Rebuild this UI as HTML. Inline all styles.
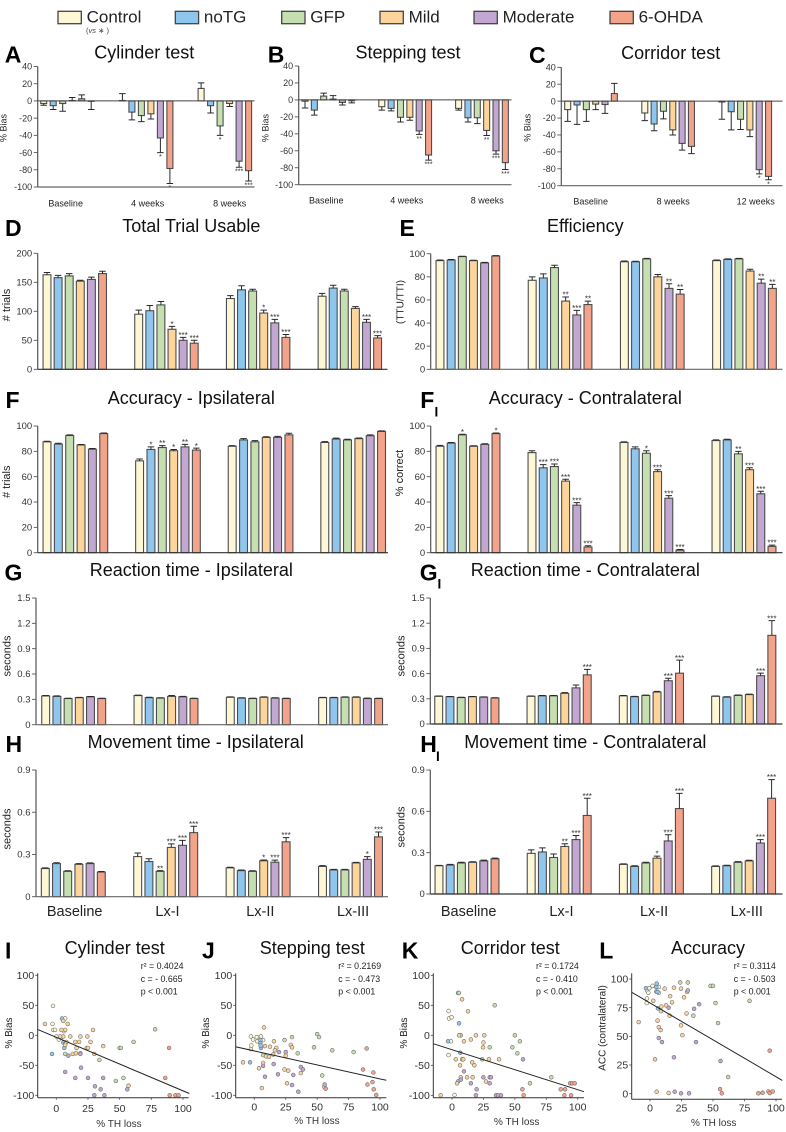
<!DOCTYPE html>
<html lang="en">
<head>
<meta charset="utf-8">
<title>Behavioural test panels</title>
<style>
html,body{margin:0;padding:0;background:#fff;}
svg{display:block;font-family:"Liberation Sans",Arial,sans-serif;}
</style>
</head>
<body>
<svg id="figure" xmlns="http://www.w3.org/2000/svg" width="786" height="1132" viewBox="0 0 786 1132"></svg>
<script>
/* ---------- shared categories ---------- */
const seriesNames = ['Control','noTG','GFP','Mild','Moderate','6-OHDA'];
const seriesColors = ['#FDF7D6','#8FC6EE','#C6DFB1','#FDD59B','#C2A7D3','#F3A38A'];

/* ---------- A-C ---------- */
const biasTicks = [40,20,0,-20,-40,-60,-80,-100];
const aGroups = ['Baseline','4 weeks','8 weeks'];
const aValues = [[-3,-5.5,-3,0.5,2.5,-0.5],[0.5,-13,-17,-15,-43,-78.5],[14.5,-5.5,-29,-3,-70,-81]];
const aErrors = [[2,4.5,9,3.5,4.5,9.5],[8,9,7,6,17,17.5],[6.5,8.5,11,3.5,7,12]];
const aStars = [['','','','','',''],['','','','','*','*'],['','','*','','***','***']];

const bGroups = ['Baseline','4 weeks','8 weeks'];
const bValues = [[-1.5,-12,4.5,1,-3,-1],[-8,-10,-20.5,-20.5,-36.6,-65],[-10,-21,-21,-36,-60,-74]];
const bErrors = [[8,6,3.5,4,3,2.5],[4,3,5.5,3.5,4,6],[2,5,7,6,4,8]];
const bStars = [['','','','','',''],['','','','','**','***'],['','','','**','***','***']];

const cGroups = ['Baseline','8 weeks','12 weeks'];
const cValues = [[-10,-4.5,-10,-3.5,-4,9],[-14,-27,-12,-34,-50,-53.5],[-1,-12.5,-21.5,-34,-81,-89]];
const cErrors = [[14,23,14,6.5,10.5,12],[9,8,9,6,8,8.5],[20.5,21.5,12,8,5,4]];
const cStars = [['','','','','',''],['','','','','',''],['','','','','*','*']];

/* ---------- D, E ---------- */
const dTicks = [200,150,100,50,0];
const dValues = [[163,158,161,152,155,165],[95,101,111,69,50,45],[122,137,135,97,80,55],[126,140,135,105,81,54]];
const dErrors = [[4,4,4,1.5,4,4],[7,9,6,5,5,5],[5,7,3,5,6,5],[5,5,3,3,5,4]];
const dStars = [['','','','','',''],['','','','*','***','***'],['','','','*','***','***'],['','','','','***','***']];

const percentTicks = [100,80,60,40,20,0];
const eValues = [[94,94.5,97.5,94,92,98],[77,79,88,59,47,56],[93,93,95.5,80,70,65],[94,95,95.5,85,74.5,70]];
const eErrors = [[0.5,0.5,0.3,0.3,0.5,0.3],[3,3.5,2,3.5,4,3],[0.7,0.5,0.5,2,4,4],[0.5,0.5,0.5,1.5,3.5,3.5]];
const eStars = [['','','','','',''],['','','','**','***','**'],['','','','','**','**'],['','','','','**','**']];

/* ---------- F, F-I ---------- */
const fValues = [[87.5,85.7,92.5,85,81.7,94],[72.5,81.5,83,80.5,83.5,81],[84,89,87.5,91,91,93],[87,89.7,89,90,92.3,95.7]];
const fErrors = [[0.5,0.7,0.5,0.4,0.5,0.5],[1.5,2,1.5,1,2,1.5],[0.5,1,1,0.5,0.8,1.3],[0.7,0.7,0.5,0.5,0.7,0.5]];
const fStars = [['','','','','',''],['','*','**','*','**','*'],['','','','','',''],['','','','','','']];

const fiValues = [[84,86.5,93,84,85.5,94],[79,67,68,56.5,37.5,4.5],[87,82,78.5,64,43,2],[88.5,89,78,65.5,46.5,5]];
const fiErrors = [[0.7,0.5,0.5,0.4,0.5,0.5],[1.5,2.5,2,1.5,2,1],[0.5,1.5,2,1.5,2,0.5],[0.5,0.5,2,1.5,2,1]];
const fiStars = [['','','*','','','*'],['','***','***','***','***','***'],['','','*','***','***','***'],['','','**','***','***','***']];

/* ---------- G, G-I ---------- */
const reactionTicks = [1.5,1.2,0.9,0.6,0.3,0];
const gValues = [[0.34,0.335,0.31,0.32,0.33,0.31],[0.345,0.32,0.315,0.335,0.33,0.31],[0.325,0.315,0.31,0.325,0.315,0.31],[0.32,0.32,0.325,0.325,0.31,0.31]];
const gErrors = [[0.005,0.006,0.003,0.004,0.004,0.003],[0.005,0.005,0.004,0.01,0.005,0.003],[0.005,0.004,0.003,0.005,0.004,0.003],[0.004,0.004,0.004,0.005,0.004,0.003]];
const gStars = [['','','','','',''],['','','','','',''],['','','','','',''],['','','','','','']];

const giValues = [[0.33,0.325,0.315,0.325,0.32,0.31],[0.33,0.335,0.335,0.365,0.43,0.585],[0.335,0.325,0.34,0.38,0.515,0.605],[0.33,0.32,0.34,0.35,0.575,1.055]];
const giErrors = [[0.003,0.003,0.003,0.003,0.003,0.003],[0.004,0.005,0.005,0.008,0.035,0.065],[0.005,0.004,0.004,0.008,0.03,0.155],[0.004,0.004,0.005,0.005,0.03,0.175]];
const giStars = [['','','','','',''],['','','','','','***'],['','','','','***','***'],['','','','','***','***']];

/* ---------- H, H-I ---------- */
const movementTicks = [0.9,0.6,0.3,0];
const lesionGroups = ['Baseline','Lx-I','Lx-II','Lx-III'];
const hValues = [[0.2,0.235,0.18,0.23,0.235,0.175],[0.285,0.25,0.18,0.35,0.365,0.455],[0.205,0.185,0.18,0.255,0.245,0.39],[0.215,0.19,0.19,0.24,0.265,0.425]];
const hErrors = [[0.005,0.006,0.004,0.005,0.005,0.004],[0.025,0.02,0.005,0.025,0.035,0.045],[0.004,0.005,0.004,0.006,0.015,0.03],[0.006,0.004,0.004,0.004,0.02,0.035]];
const hStars = [['','','','','',''],['','','**','***','***','***'],['','','','*','***','***'],['','','','','*','***']];

const hiValues = [[0.205,0.21,0.225,0.23,0.24,0.255],[0.295,0.305,0.265,0.345,0.395,0.57],[0.215,0.2,0.225,0.26,0.385,0.62],[0.2,0.205,0.23,0.24,0.37,0.695]];
const hiErrors = [[0.003,0.005,0.005,0.004,0.006,0.005],[0.025,0.03,0.025,0.02,0.03,0.125],[0.004,0.005,0.005,0.015,0.045,0.11],[0.004,0.004,0.005,0.005,0.025,0.135]];
const hiStars = [['','','','','',''],['','','','**','***','***'],['','','','*','***','***'],['','','','','***','***']];

/* ---------- scatter data: [% TH loss, outcome] ---------- */
const lossTicks = [0,25,50,75,100];
const biasScatterTicks = [100,50,0,-50,-100];
const accScatterTicks = [100,75,50,25,0];

const iControl = [[-2.6,49],[-3,19],[-2.4,9],[-1,9],[0,-2],[2,-7],[7,28],[6,7],[4,-3]];
const iNoTG = [[4.5,28],[-3.4,-31],[6.3,-21],[5.5,-12],[7,-14]];
const iGFP = [[78,10],[61,-11],[50,-21],[51,-21],[34,-41],[24,-21],[7,-31],[53,-71],[47,-76]];
const iMild = [[-9,19],[5.5,24],[9,19],[4,9],[7,9],[29,9],[11,-2],[19,-2],[24.5,-2],[5.5,-2],[3,-2],[8,-11],[15,-11],[18,-11],[27,-11],[7,-16],[37,-18],[16,-21],[25,-21],[13,-31],[15.5,-30],[19,-30],[30,-31],[57,-84]];
const iModerate = [[9.5,-34],[19,-31],[19.5,-54],[7,-61],[15,-71],[25,-71],[37,-71],[30.5,-85],[35,-90],[56,-90],[30,-100],[38,-100]];
const iOHDA = [[89,-21],[86,-71],[89.5,-100],[94,-100],[96.5,-100]];
const iLineX = [-15,105];
const iLineY = [10,-97];

const jControl = [[-2.7,-2],[2,-3],[5.3,-2],[-1,-7],[-2.4,-17],[-2.7,-23],[7,-8],[2.4,-10]];
const jNoTG = [[-3.4,-45],[4.8,-8],[4.8,-13],[5.3,-21],[5,-17]];
const jGFP = [[30,-3],[50,2],[51.5,-3],[24,-8],[47.5,-20],[62,-25],[79,-28],[34.5,-30],[7,-33],[54,-67]];
const jMild = [[7.7,13],[15.6,-10],[29,-16],[30,-20],[17.5,-21],[8.5,-18],[12.5,-19],[16.4,-25],[25,-34],[15,-32],[9.3,-35],[11.7,-36],[-9,-45],[7,-46],[3.7,-55],[24,-57],[27,-59],[37,-63],[26,-80],[6,-88],[55.7,-86]];
const jModerate = [[19.6,-28],[25,-28],[7,-51],[15.4,-48],[37,-53],[38.7,-57],[8.5,-69],[18.8,-65],[31,-66],[30,-83],[35,-94],[56,-82]];
const jOHDA = [[89.4,-22],[86.5,-57],[94.7,-62],[90,-82],[94,-78],[95,-90],[97,-99.5],[56.8,-89]];
const jLineX = [-15,105];
const jLineY = [-19,-75];

const kControl = [[-2.7,40.5],[-2.4,28],[-0.3,30],[-0.8,-10],[-2.7,-33],[2,-99.5]];
const kNoTG = [[4.8,70.5],[5.6,20],[-3.2,-10],[6.6,-29],[4.8,-77]];
const kGFP = [[34,50],[5.5,70.5],[7,0],[30,-20],[50,0],[54,-10],[48,-20],[52,-30],[24,-40],[79,-70],[62,-80]];
const kMild = [[8,60],[12.7,40],[5.6,0],[19,0],[25.7,0],[9.5,-10],[15,-7],[25,-12],[24.7,-20],[3,-40],[8,-40],[9,-40],[29.4,-40],[37.4,-40],[16,-45],[17.8,-50],[6.4,-50],[7,-70],[12,-70],[16.4,-70],[4,-80],[27,-77],[-9,-100]];
const kModerate = [[56.5,-40],[9.5,-60],[25,-70],[30,-70],[31,-70],[7,-74],[15,-80],[30,-80],[19.6,-90],[19,-100],[35,-100],[36.6,-100],[39,-100]];
const kOHDA = [[94,-80],[95.5,-80],[97.6,-80],[86.5,-90],[90,-90],[56,-90],[57,-100],[89.4,-100],[94.7,-100]];
const kLineX = [-15,105];
const kLineY = [-14,-94];

const lControl = [[-2.4,90],[-0.5,92],[2,94],[-1.3,88],[-2.4,83],[-2.6,79],[7,93],[7,88]];
const lNoTG = [[-3.2,92],[5.3,96],[5,89],[6,88.7],[5,93],[6.3,74.4]];
const lGFP = [[24,97],[30,97],[48,94],[50,94],[52,79],[79,81],[54,61.6],[34.4,68],[62,14.5]];
const lMild = [[11.6,91.6],[19,92.4],[24.6,91.6],[16,85],[27,84],[29.4,88.7],[2.6,81],[17.5,79.7],[12.7,77],[9,76],[8.7,72],[15.6,68],[29,70],[-9,62.5],[6,63.7],[7,58],[8.5,55.5],[24.6,59.6],[25.7,51],[4,30],[5.3,1.7],[14.8,0.6]];
const lModerate = [[30,90],[14.8,75],[39,78],[35,74],[7,48.5],[9.5,45],[36.5,45],[19,31.7],[56,28.5],[19.6,1.7],[24.6,0.3],[31,0.3]];
const lOHDA = [[95,37.5],[55.6,4],[57,0.3],[86,0.3],[89.4,0.9],[94,2],[95,0.6],[97.4,2]];
const lLineX = [-14.5,105];
const lLineY = [88.4,11.6];

/* ---------- drawing helpers ---------- */
const NS = 'http://www.w3.org/2000/svg';
const root = document.getElementById('figure');

function make(parent, tag, attrs){
  const el = document.createElementNS(NS, tag);
  for (const k in attrs) el.setAttribute(k, attrs[k]);
  parent.appendChild(el);
  return el;
}
function textEl(parent, str, x, y, size, extra){
  const el = make(parent, 'text', Object.assign({x:x, y:y, 'font-size':size, fill:'#222'}, extra || {}));
  el.textContent = str;
  return el;
}
function rotatedText(parent, str, x, y, size){
  const el = make(parent, 'text', {x:0, y:0, 'font-size':size, fill:'#222', 'text-anchor':'middle',
    transform:'translate(' + x + ' ' + y + ') rotate(-90)', 'dominant-baseline':'central'});
  el.textContent = str;
  return el;
}
function linePath(parent, x1, y1, x2, y2, color, width){
  return make(parent, 'line', {x1:x1, y1:y1, x2:x2, y2:y2, stroke:color, 'stroke-width':width});
}

/* ---------- legend ---------- */
const legendLayout = {boxW:23.3, boxH:12.4, boxY:11.3, textY:22.5, starts:[58,175.3,281.7,380,474,610]};
const legend = make(root, 'g', {});


seriesNames.forEach(function(name, i){
  const entry = make(legend, 'g', {});
  
  
  const x = legendLayout.starts[i];
  make(entry, 'rect', {x:x, y:legendLayout.boxY, width:legendLayout.boxW, height:legendLayout.boxH,
    fill:seriesColors[i], stroke:'#444', 'stroke-width':1.3});
  textEl(entry, name, x + legendLayout.boxW + 5.3, legendLayout.textY, 17, {fill:'#222'});
});
const vsNote = make(legend, 'text', {x:86, y:33, 'font-size':7.5, fill:'#444'});


vsNote.innerHTML = '(<tspan font-style="italic">vs</tspan> ∗ )';

/* ---------- panel heading ---------- */
function panelHeading(parent, letter, letterX, letterY, sub, subX, subY, title, titleX, titleY){
  const mark = textEl(parent, letter, letterX, letterY, 23, {'font-weight':'bold', fill:'#000'});
  
  
  if (sub){
    const subMark = textEl(parent, 'I', subX, subY, 13.5, {'font-weight':'bold', fill:'#000'});
    
    
  }
  const head = textEl(parent, title, titleX, titleY, 18, {'text-anchor':'middle', fill:'#111'});
  
  
}

/* ---------- bar panels ---------- */
function barPanel(p){
  const g = make(root, 'g', {});
  
  
  panelHeading(g, p.letter, p.letterX, p.letterY, p.sub, p.subX, p.subY, p.title, p.titleX, p.titleY);

  const top = p.ticks[0];
  const bottom = p.ticks[p.ticks.length - 1];
  const yScale = function(v){ return p.yBottom + (v - bottom) * (p.yTop - p.yBottom) / (top - bottom); };
  const xScale = function(groupIdx, seriesIdx){ return p.first + groupIdx * p.groupPitch + seriesIdx * p.barPitch; };

  p.values.forEach(function(groupValues, gi){
    groupValues.forEach(function(v, si){
      const cx = xScale(gi, si);
      const y0 = yScale(0);
      const yv = yScale(v);
      const bar = make(g, 'rect', {x:cx - p.barW / 2, y:Math.min(y0, yv), width:p.barW,
        height:Math.abs(y0 - yv), fill:seriesColors[si], stroke:'#4d4d4d', 'stroke-width':1.1});
      
      

      const direction = v >= 0 ? 1 : -1;
      const yErr = yScale(v + direction * p.errors[gi][si]);
      const whisker = make(g, 'path', {
        d:'M' + cx + ' ' + yv + 'V' + yErr + 'M' + (cx - p.capW / 2) + ' ' + yErr + 'H' + (cx + p.capW / 2),
        fill:'none', stroke:'#2a2a2a', 'stroke-width':1});
      
      

      const star = p.stars[gi][si];
      if (star){
        const mark = textEl(g, star, cx, direction > 0 ? yErr + 0.6 : yErr + 6.5, p.starSize, {'text-anchor':'middle', fill:'#333'});
        
        
      }
    });
  });

  const yAxis = linePath(g, p.axisX, yScale(top), p.axisX, p.yBottomAxis === undefined ? yScale(bottom) : p.yBottomAxis, '#555', 1.2);
  
  
  const xAxis = linePath(g, p.axisX, yScale(bottom), p.axisEnd, yScale(bottom), p.axisColor, 1.2);
  
  
  if (bottom !== 0){
    const zero = linePath(g, p.axisX, yScale(0), p.axisEnd, yScale(0), '#444', 1);
    
    
  }
  p.ticks.forEach(function(t){
    const mark = linePath(g, p.axisX - 4, yScale(t), p.axisX, yScale(t), '#555', 0.9);
    
    
    const label = textEl(g, String(t), p.axisX - 5.5, yScale(t) + 3.2, p.tickSize, {'text-anchor':'end', fill:'#333'});
    
    
  });
  const yTitle = rotatedText(g, p.yTitle, p.yTitleX, p.yTitleY, p.yTitleSize);
  
  
  if (p.groups){
    p.groups.forEach(function(label, i){
      const cat = textEl(g, label, p.groupLabelX + i * p.groupLabelPitch, p.groupLabelY, p.groupLabelSize, {'text-anchor':'middle', fill:'#222'});
      
      
    });
  }
}

const smallBars = {ticks:biasTicks, barW:6, capW:6.5, starSize:7, tickSize:9, yTitleSize:9, axisColor:'#666', groupLabelSize:9};
barPanel(Object.assign({}, smallBars, {name:'panel-a-cylinder-test', letter:'A', letterX:4.7, letterY:62.7, title:'Cylinder test', titleX:144.3, titleY:58.7,
  values:aValues, errors:aErrors, stars:aStars, groups:aGroups, first:43.7, barPitch:9.5, groupPitch:78.7,
  axisX:37.7, axisEnd:254.5, yTop:66.5, yBottom:187, yTitle:'% Bias', yTitleX:3.5, yTitleY:128,
  groupLabelX:65.7, groupLabelPitch:82, groupLabelY:206.7}));
barPanel(Object.assign({}, smallBars, {name:'panel-b-stepping-test', letter:'B', letterX:267.7, letterY:62.7, title:'Stepping test', titleX:408, titleY:58.7,
  values:bValues, errors:bErrors, stars:bStars, groups:bGroups, first:305, barPitch:9.35, groupPitch:76.8,
  axisX:298.7, axisEnd:511.5, yTop:66, yBottom:184.7, yTitle:'% Bias', yTitleX:265.3, yTitleY:128,
  groupLabelX:326.3, groupLabelPitch:80.5, groupLabelY:203.7}));
barPanel(Object.assign({}, smallBars, {name:'panel-c-corridor-test', letter:'C', letterX:529, letterY:63, title:'Corridor test', titleX:670.7, titleY:59,
  values:cValues, errors:cErrors, stars:cStars, groups:cGroups, first:567.7, barPitch:9.33, groupPitch:77.1,
  axisX:561.3, axisEnd:782.5, yTop:67.3, yBottom:185.7, yTitle:'% Bias', yTitleX:527.3, yTitleY:127.7,
  groupLabelX:590.7, groupLabelPitch:82.5, groupLabelY:204.7}));

const midBars = {barW:7.9, capW:6.5, starSize:8, tickSize:9.5, yTitleSize:11, axisColor:'#333'};
barPanel(Object.assign({}, midBars, {name:'panel-d-total-trial-usable', letter:'D', letterX:5, letterY:236, title:'Total Trial Usable', titleX:191.3, titleY:232,
  values:dValues, errors:dErrors, stars:dStars, ticks:dTicks, first:47, barPitch:11.1, groupPitch:91.7,
  axisX:37.7, axisEnd:387.5, yTop:253.3, yBottom:369.3, yTitle:'# trials', yTitleX:7, yTitleY:305}));
barPanel(Object.assign({}, midBars, {name:'panel-e-efficiency', letter:'E', letterX:399.5, letterY:236, title:'Efficiency', titleX:585.3, titleY:232,
  values:eValues, errors:eErrors, stars:eStars, ticks:percentTicks, first:440, barPitch:11.15, groupPitch:92.2,
  axisX:430.7, axisEnd:782.5, yTop:253.7, yBottom:369.3, yTitle:'(TTU/TTI)', yTitleX:401, yTitleY:302, yTitleSize:10, axisColor:'#666'}));
barPanel(Object.assign({}, midBars, {name:'panel-f-accuracy-ipsilateral', letter:'F', letterX:5.5, letterY:408, title:'Accuracy - Ipsilateral', titleX:191.3, titleY:404,
  values:fValues, errors:fErrors, stars:fStars, ticks:percentTicks, first:47, barPitch:11.35, groupPitch:92.6,
  axisX:37.7, axisEnd:388, yTop:426, yBottom:552.7, yTitle:'# trials', yTitleX:7, yTitleY:481.7}));
barPanel(Object.assign({}, midBars, {name:'panel-f1-accuracy-contralateral', letter:'F', letterX:420.3, letterY:408, sub:true, subX:434.5, subY:416.5, title:'Accuracy - Contralateral', titleX:585.3, titleY:404,
  values:fiValues, errors:fiErrors, stars:fiStars, ticks:percentTicks, first:440, barPitch:11.2, groupPitch:92,
  axisX:430.7, axisEnd:782.5, yTop:426, yBottom:552.7, yTitle:'% correct', yTitleX:400, yTitleY:473}));
barPanel(Object.assign({}, midBars, {name:'panel-g-reaction-time-ipsilateral', letter:'G', letterX:4.5, letterY:580.7, title:'Reaction time - Ipsilateral', titleX:191.3, titleY:576,
  values:gValues, errors:gErrors, stars:gStars, ticks:reactionTicks, first:45.7, barPitch:11.2, groupPitch:92.3,
  axisX:36, axisEnd:388, yTop:598, yBottom:724.7, yTitle:'seconds', yTitleX:7.3, yTitleY:656, axisColor:'#666'}));
barPanel(Object.assign({}, midBars, {name:'panel-g1-reaction-time-contralateral', letter:'G', letterX:419.7, letterY:580.7, sub:true, subX:437.5, subY:588.5, title:'Reaction time - Contralateral', titleX:585.3, titleY:576,
  values:giValues, errors:giErrors, stars:giStars, ticks:reactionTicks, first:438.7, barPitch:11.25, groupPitch:92.3,
  axisX:430.3, axisEnd:782.5, yTop:598, yBottom:724, yTitle:'seconds', yTitleX:401.3, yTitleY:656}));
barPanel(Object.assign({}, midBars, {name:'panel-h-movement-time-ipsilateral', letter:'H', letterX:5.5, letterY:752, title:'Movement time - Ipsilateral', titleX:195.7, titleY:748,
  values:hValues, errors:hErrors, stars:hStars, ticks:movementTicks, first:45.3, barPitch:11.2, groupPitch:92.4,
  axisX:36, axisEnd:388, yTop:770, yBottom:896.7, yTitle:'seconds', yTitleX:7.3, yTitleY:829, axisColor:'#666',
  groups:lesionGroups, groupLabelX:74.7, groupLabelPitch:92.8, groupLabelY:916, groupLabelSize:14.5}));
barPanel(Object.assign({}, midBars, {name:'panel-h1-movement-time-contralateral', letter:'H', letterX:420.3, letterY:752, sub:true, subX:436, subY:761, title:'Movement time - Contralateral', titleX:585.3, titleY:748,
  values:hiValues, errors:hiErrors, stars:hiStars, ticks:movementTicks, first:439, barPitch:11.2, groupPitch:92.2,
  axisX:430.3, axisEnd:782.5, yTop:770, yBottom:894, yTitle:'seconds', yTitleX:401.3, yTitleY:827,
  groups:lesionGroups, groupLabelX:468.7, groupLabelPitch:92.7, groupLabelY:916, groupLabelSize:14.5}));

/* ---------- scatter panels ---------- */
function scatterPanel(p){
  const g = make(root, 'g', {});
  
  
  panelHeading(g, p.letter, p.letterX, 958.3, false, 0, 0, p.title, p.titleX, 954);

  const yHi = p.yTicks[0];
  const yLo = p.yTicks[p.yTicks.length - 1];
  const xScale = function(v){ return p.x0 + v * (p.x100 - p.x0) / 100; };
  const yScale = function(v){ return p.yLoPx + (v - yLo) * (p.yHiPx - p.yLoPx) / (yHi - yLo); };

  p.points.forEach(function(series, si){
    series.forEach(function(pt){
      const dot = make(g, 'circle', {cx:xScale(pt[0]), cy:yScale(pt[1]), r:1.9, fill:seriesColors[si], stroke:'#6b6b6b', 'stroke-width':0.6});
      
      
    });
  });

  const trend = linePath(g, xScale(p.lineX[0]), yScale(p.lineY[0]), xScale(p.lineX[1]), yScale(p.lineY[1]), '#222', 1);
  
  

  const yAxis = linePath(g, p.axisX, 973.3, p.axisX, p.axisBottom, '#333', 1);
  
  
  const xAxis = linePath(g, p.axisX, p.axisBottom, p.axisEnd, p.axisBottom, '#333', 1);
  
  

  p.yTicks.forEach(function(t){
    const mark = linePath(g, p.axisX - 2.5, yScale(t), p.axisX, yScale(t), '#444', 0.8);
    
    
    const label = textEl(g, String(t), p.axisX - 3.5, yScale(t) + 3.7, 10.5, {'text-anchor':'end', fill:'#333'});
    
    
  });
  lossTicks.forEach(function(t){
    const mark = linePath(g, xScale(t), p.axisBottom, xScale(t), p.axisBottom + 2, '#444', 0.8);
    
    
    const label = textEl(g, String(t), xScale(t), p.xTickY, 10.5, {'text-anchor':'middle', fill:'#333'});
    
    
  });
  const xTitle = textEl(g, '% TH loss', p.xTitleX, p.xTitleY, 10, {'text-anchor':'middle', fill:'#333'});
  
  
  const yTitle = rotatedText(g, p.yTitle, p.yTitleX, p.yTitleY, 10);
  
  

  const r2 = make(g, 'text', {x:p.statX, y:969, 'font-size':8.8, fill:'#222'});
  
  
  r2.textContent = 'r² = ' + p.r2;
  const c = textEl(g, 'c = - ' + p.c, p.statX, 982, 8.8, {fill:'#222'});
  
  
  const pv = textEl(g, 'p < 0.001', p.statX, 994.3, 8.8, {fill:'#222'});
  
  
}

scatterPanel({name:'panel-i-cylinder-scatter', letter:'I', letterX:5, title:'Cylinder test', titleX:114.7,
  points:[iControl,iNoTG,iGFP,iMild,iModerate,iOHDA], lineX:iLineX, lineY:iLineY, yTicks:biasScatterTicks,
  x0:56.3, x100:183, yLoPx:1095.3, yHiPx:975.3, axisX:37.7, axisEnd:188.7, axisBottom:1097.7, xTickY:1112,
  xTitleX:119, xTitleY:1127, yTitle:'% Bias', yTitleX:9.3, yTitleY:1033, statX:140.7, r2:'0.4024', c:'0.665'});
scatterPanel({name:'panel-j-stepping-scatter', letter:'J', letterX:202, title:'Stepping test', titleX:312.3,
  points:[jControl,jNoTG,jGFP,jMild,jModerate,jOHDA], lineX:jLineX, lineY:jLineY, yTicks:biasScatterTicks,
  x0:254.3, x100:380, yLoPx:1095.3, yHiPx:975.3, axisX:235.7, axisEnd:386.3, axisBottom:1097.7, xTickY:1110.5,
  xTitleX:317, xTitleY:1124, yTitle:'% Bias', yTitleX:206.7, yTitleY:1033, statX:338.3, r2:'0.2169', c:'0.473'});
scatterPanel({name:'panel-k-corridor-scatter', letter:'K', letterX:401.7, title:'Corridor test', titleX:510.3,
  points:[kControl,kNoTG,kGFP,kMild,kModerate,kOHDA], lineX:kLineX, lineY:kLineY, yTicks:biasScatterTicks,
  x0:452, x100:577.7, yLoPx:1095.3, yHiPx:975.3, axisX:433.3, axisEnd:584, axisBottom:1097.7, xTickY:1110.5,
  xTitleX:516.7, xTitleY:1125, yTitle:'% Bias', yTitleX:404.7, yTitleY:1033, statX:536, r2:'0.1724', c:'0.410'});
scatterPanel({name:'panel-l-accuracy-scatter', letter:'L', letterX:599.3, title:'Accuracy', titleX:708,
  points:[lControl,lNoTG,lGFP,lMild,lModerate,lOHDA], lineX:lLineX, lineY:lLineY, yTicks:accScatterTicks,
  x0:650, x100:776, yLoPx:1093.7, yHiPx:979, axisX:631.7, axisEnd:782, axisBottom:1099.3, xTickY:1111.5,
  xTitleX:713.7, xTitleY:1126, yTitle:'ACC (contralateral)', yTitleX:603, yTitleY:1028, statX:733.7, r2:'0.3114', c:'0.503'});
</script>
</body>
</html>
